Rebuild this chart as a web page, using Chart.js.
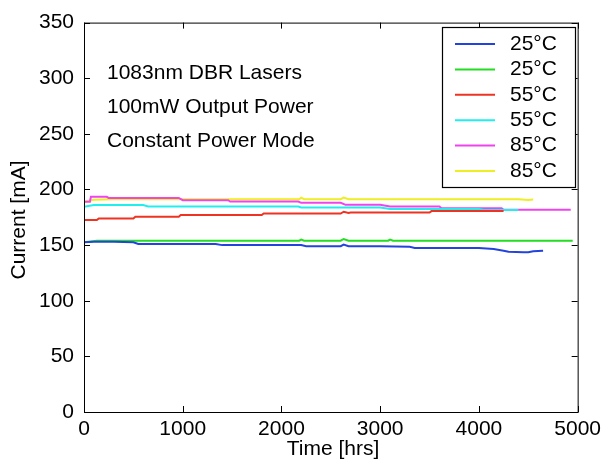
<!DOCTYPE html>
<html><head><meta charset="utf-8">
<script src="https://cdn.jsdelivr.net/npm/chart.js@4/dist/chart.umd.min.js"></script>
<style>html,body{margin:0;padding:0;background:#fff}#wrap{width:606px;height:462px}</style>
</head><body><div id="wrap"><canvas id="c" width="606" height="462"></canvas></div>
<script>
const seriesLabels = ['25°C','25°C','55°C','55°C','85°C','85°C'];
const seriesColors = ['#2244dd','#22dd22','#ee3322','#22eeee','#ee44ee','#eeee22'];
const blueT = [0,100,300,500,550,1000,1333,1400,2000,2200,2250,2600,2630,2680,3000,3300,3350,4000,4150,4250,4300,4450,4500,4550,4650];
const blueV = [152.5,153,153,152.5,151,151,151,150,150,150,149,149,150.5,149,149,148.5,147.5,147.5,146.5,145,144,143.5,143.5,144.5,145];
const greenT = [0,130,600,1000,2180,2200,2230,2600,2630,2680,3080,3100,3130,4000,4950];
const greenV = [152.5,154,154,154,154,155,154,154,155.5,154,154,155,154,154,154];
const redT = [0,130,150,500,520,960,980,1800,1820,2600,2630,2680,2700,3500,3520,4250];
const redV = [172.5,172.5,174,174,175.5,175.5,177,177,178.4,178.4,180,178.8,179.3,179.3,180.6,180.6];
const cyanT = [0,100,600,650,2170,2200,3000,3100,4000,4050,4400];
const cyanV = [184.4,186,186,184.7,184.7,183.8,183.8,182.4,182.4,181.5,181.5];
const magentaT = [0,60,70,230,250,960,1000,1460,1480,2170,2200,2600,2650,3000,3100,3600,3620,4230,4250,4930];
const magentaV = [189,189,193.4,193.4,192.4,192.4,190.4,190.4,189.2,189.2,188,188,186.2,186.2,184.7,184.7,183.2,183.2,181.7,181.7];
const yellowT = [0,100,300,2180,2200,2230,2600,2630,2680,4400,4500,4550];
const yellowV = [189,190.7,191.3,191.3,192.7,191.3,191.3,192.7,191.3,191.3,190.5,191];
const xTicks = [0,1000,2000,3000,4000,5000];
const yTicks = [0,50,100,150,200,250,300,350];
const noteLines = ['1083nm DBR Lasers','100mW Output Power','Constant Power Mode'];
const xTitle = 'Time [hrs]';
const yTitle = 'Current [mA]';

const allT = [blueT,greenT,redT,cyanT,magentaT,yellowT];
const allV = [blueV,greenV,redV,cyanV,magentaV,yellowV];
const FONT = '"Liberation Sans", Arial, sans-serif';

const datasets = allT.map((t,i)=>({
  label: seriesLabels[i],
  data: t.map((x,j)=>({x:x,y:allV[i][j]})),
  borderColor: seriesColors[i],
  backgroundColor: seriesColors[i],
  borderWidth: 2,
  pointRadius: 0,
  tension: 0,
  fill: false
}));

const deco = {
  id:'deco',
  afterDraw(chart){
    const ctx = chart.ctx, a = chart.chartArea;
    const xs = chart.scales.x, ys = chart.scales.y;
    ctx.save();
    ctx.strokeStyle = '#000'; ctx.lineWidth = 1;
    ctx.strokeRect(a.left+0.5, a.top+0.5, a.right-a.left, a.bottom-a.top);
    ctx.beginPath();
    const L = 6;
    xTicks.forEach(v=>{ const p = Math.round(xs.getPixelForValue(v))+0.5;
      ctx.moveTo(p,a.bottom); ctx.lineTo(p,a.bottom-L);
      ctx.moveTo(p,a.top); ctx.lineTo(p,a.top+L); });
    yTicks.forEach(v=>{ const p = Math.round(ys.getPixelForValue(v))+0.5;
      ctx.moveTo(a.left,p); ctx.lineTo(a.left+L,p);
      ctx.moveTo(a.right,p); ctx.lineTo(a.right-L,p); });
    ctx.stroke();
    // notes
    ctx.fillStyle = '#000';
    ctx.font = '21px ' + FONT;
    ctx.textAlign = 'left'; ctx.textBaseline = 'middle';
    noteLines.forEach((s,i)=>ctx.fillText(s, 107, 73 + i*34));
    // axis titles
    ctx.font = '21px ' + FONT;
    ctx.textAlign = 'center';
    ctx.fillText(xTitle, 333, 449);
    ctx.save(); ctx.translate(19, 220); ctx.rotate(-Math.PI/2);
    ctx.fillText(yTitle, 0, 0); ctx.restore();
    // legend
    const bx = 442, by = 27, bw = 133, bh = 160;
    ctx.fillStyle = '#fff'; ctx.fillRect(bx,by,bw,bh);
    ctx.strokeStyle = '#000'; ctx.lineWidth = 1.2;
    ctx.strokeRect(bx+0.5,by+0.5,bw,bh);
    ctx.font = '21px ' + FONT;
    ctx.textAlign = 'left';
    chart.data.datasets.forEach((d,i)=>{
      const y = by + 17 + i*25.4;
      ctx.strokeStyle = d.borderColor; ctx.lineWidth = 2;
      ctx.beginPath(); ctx.moveTo(455,y); ctx.lineTo(495,y); ctx.stroke();
      ctx.fillStyle = '#000';
      ctx.fillText(d.label, 510, y);
    });
    ctx.restore();
  }
};

new Chart(document.getElementById('c'), {
  type:'line',
  data:{datasets},
  options:{
    responsive:false, animation:false, devicePixelRatio:1,
    layout:{padding:{top:22,right:24,left:0,bottom:0}},
    plugins:{legend:{display:false},tooltip:{enabled:false}},
    scales:{
      x:{type:'linear',min:0,max:5000,
        afterBuildTicks(s){ s.ticks = xTicks.map(v=>({value:v})); },
        afterFit(s){ s.height = 50; },
        grid:{display:false,drawTicks:false}, border:{display:false},
        ticks:{font:{family:FONT,size:21},color:'#000',padding:5,maxRotation:0,
          callback:(v)=>String(v)}},
      y:{min:0,max:350,
        afterBuildTicks(s){ s.ticks = yTicks.map(v=>({value:v})); },
        afterFit(s){ s.width = 84; },
        grid:{display:false,drawTicks:false}, border:{display:false},
        ticks:{font:{family:FONT,size:21},color:'#000',padding:10,
          callback:(v)=>String(v)}}
    }
  },
  plugins:[deco]
});
</script></body></html>
